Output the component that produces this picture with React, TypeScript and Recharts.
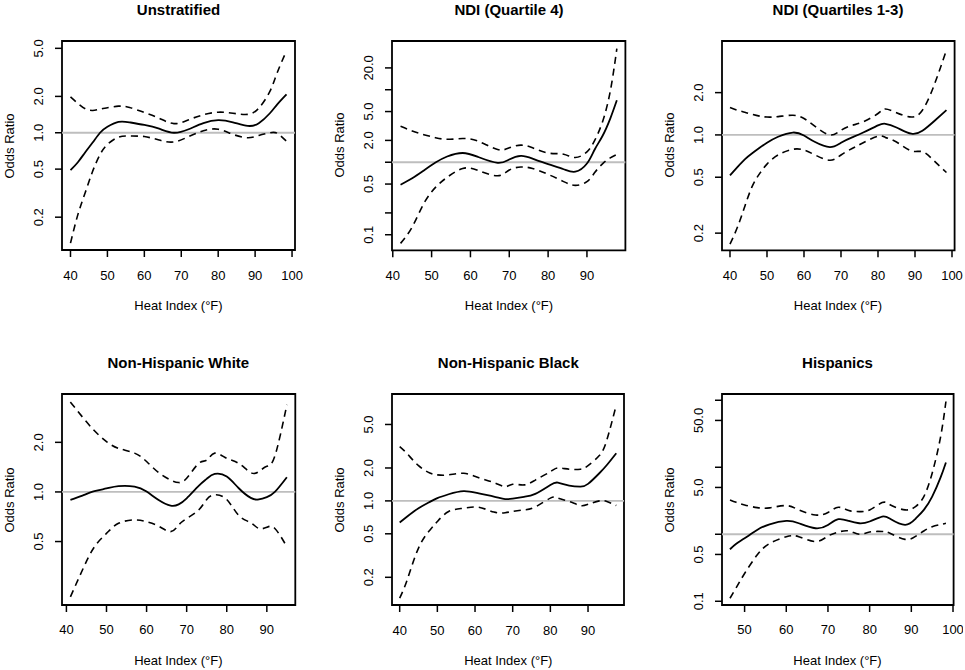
import { LineChart, Line, XAxis, YAxis, ReferenceLine, ReferenceArea } from 'recharts';

const FONT = '"Liberation Sans", Arial, Helvetica, sans-serif';

// Unstratified
const unstratX = [40, 42, 44, 46, 48, 50, 53, 56, 60, 64, 68, 72, 76, 80, 84, 88, 91, 94, 96, 98.5];
const unstratOR = [0.49, 0.57, 0.69, 0.83, 1.0, 1.12, 1.23, 1.22, 1.16, 1.08, 1.0, 1.07, 1.2, 1.27, 1.22, 1.14, 1.2, 1.45, 1.72, 2.08];
const unstratLo = [0.122, 0.21, 0.32, 0.48, 0.66, 0.8, 0.92, 0.94, 0.93, 0.87, 0.84, 0.93, 1.04, 1.07, 0.97, 0.91, 0.95, 1.0, 0.99, 0.85];
const unstratHi = [1.98, 1.75, 1.58, 1.53, 1.57, 1.61, 1.66, 1.62, 1.47, 1.32, 1.19, 1.28, 1.41, 1.48, 1.45, 1.42, 1.6, 2.2, 3.15, 4.77];

// NDI quartile 4
const ndi4X = [42, 45, 48, 51, 54, 58, 62, 67, 70, 73, 76, 80, 84, 87, 90, 92, 94, 96, 97.7];
const ndi4OR = [0.49, 0.6, 0.77, 0.99, 1.2, 1.34, 1.18, 0.98, 1.09, 1.22, 1.12, 0.94, 0.8, 0.74, 0.96, 1.5, 2.3, 4.0, 7.15];
const ndi4Lo = [0.076, 0.128, 0.27, 0.45, 0.62, 0.82, 0.77, 0.65, 0.78, 0.86, 0.82, 0.68, 0.54, 0.48, 0.54, 0.72, 0.95, 1.15, 1.28];
const ndi4Hi = [3.13, 2.7, 2.4, 2.18, 2.07, 2.12, 1.95, 1.5, 1.58, 1.72, 1.58, 1.34, 1.29, 1.16, 1.39, 2.0, 3.6, 9.5, 36.8];

// NDI quartiles 1-3
const ndi13X = [40, 42, 44, 46, 48, 50, 53, 57, 60, 63, 67, 70, 73, 76, 80, 82, 85, 89, 92, 95, 98.5];
const ndi13OR = [0.515, 0.59, 0.67, 0.74, 0.81, 0.88, 0.97, 1.04, 0.99, 0.89, 0.82, 0.88, 0.96, 1.04, 1.17, 1.2, 1.13, 1.02, 1.07, 1.24, 1.5];
const ndi13Lo = [0.167, 0.22, 0.31, 0.43, 0.53, 0.62, 0.72, 0.79, 0.78, 0.72, 0.66, 0.72, 0.8, 0.88, 0.98, 0.96, 0.89, 0.77, 0.76, 0.66, 0.54];
const ndi13Hi = [1.57, 1.5, 1.45, 1.4, 1.36, 1.34, 1.35, 1.38, 1.31, 1.15, 1.0, 1.08, 1.17, 1.24, 1.42, 1.53, 1.44, 1.34, 1.5, 2.2, 4.02];

// Non-Hispanic White
const whiteX = [41, 44, 47, 50, 53, 57, 60, 63, 66, 68, 70, 73, 75, 77, 80, 83, 86, 88, 90, 92, 95];
const whiteOR = [0.894, 0.95, 1.01, 1.05, 1.085, 1.077, 1.005, 0.894, 0.826, 0.84, 0.915, 1.088, 1.2, 1.286, 1.24, 1.053, 0.92, 0.9, 0.93, 1.0, 1.228];
const whiteLo = [0.231, 0.336, 0.465, 0.56, 0.645, 0.676, 0.66, 0.62, 0.574, 0.63, 0.69, 0.777, 0.9, 0.96, 0.9, 0.72, 0.65, 0.6, 0.61, 0.6, 0.465];
const whiteHi = [3.51, 2.85, 2.35, 2.02, 1.84, 1.72, 1.53, 1.31, 1.18, 1.14, 1.21, 1.49, 1.56, 1.72, 1.6, 1.49, 1.31, 1.33, 1.43, 1.65, 3.38];

// Non-Hispanic Black
const blackX = [40, 42, 45, 48, 50, 53, 57, 61, 65, 68, 70, 73, 76, 80, 82, 85, 88, 90, 93, 95, 97.5];
const blackOR = [0.634, 0.72, 0.857, 0.98, 1.06, 1.15, 1.23, 1.17, 1.095, 1.04, 1.05, 1.09, 1.16, 1.4, 1.47, 1.38, 1.35, 1.43, 1.79, 2.13, 2.73];
const blackLo = [0.129, 0.19, 0.37, 0.54, 0.647, 0.8, 0.857, 0.875, 0.79, 0.78, 0.8, 0.827, 0.88, 1.06, 1.06, 0.986, 0.906, 0.93, 1.0, 0.986, 0.906];
const blackHi = [3.14, 2.7, 2.1, 1.8, 1.73, 1.73, 1.79, 1.63, 1.47, 1.35, 1.42, 1.4, 1.55, 1.85, 2.0, 1.95, 1.95, 2.1, 2.6, 3.61, 7.54];

// Hispanics
const hispX = [46.5, 48, 50, 53, 56, 60, 63, 67, 70, 72.5, 75, 77.5, 80, 83, 85, 88.5, 91, 93, 95, 97, 98.3];
const hispOR = [0.597, 0.72, 0.87, 1.16, 1.41, 1.58, 1.46, 1.23, 1.38, 1.68, 1.58, 1.46, 1.55, 1.84, 1.69, 1.38, 1.7, 2.31, 3.65, 7.0, 11.8];
const hispLo = [0.111, 0.16, 0.26, 0.49, 0.73, 0.92, 0.92, 0.78, 0.94, 1.08, 1.12, 1.0, 1.08, 1.1, 1.03, 0.84, 0.93, 1.12, 1.3, 1.4, 1.46];
const hispHi = [3.26, 3.0, 2.74, 2.5, 2.48, 2.68, 2.31, 1.94, 2.11, 2.53, 2.26, 2.18, 2.31, 2.97, 2.74, 2.31, 2.59, 3.65, 8.16, 28, 95.9];

const toRows = (x: number[], or: number[], lo: number[], hi: number[]) =>
  x.map((v, i) => ({ x: v, or: or[i], lo: lo[i], hi: hi[i] }));

type Box = { l: number; t: number; r: number; b: number };

interface PanelProps {
  title: string;
  rows: { x: number; or: number; lo: number; hi: number }[];
  xDomain: [number, number];
  yDomain: [number, number];
  xTicks: number[];
  yTicks: number[];
  yLabeled: number[];
  box: Box;
}

const PAD_L = 70;
const PAD_T = 30;
const PAD_R = 10;
const PAD_B = 70;

function YTick(props: any) {
  const { x, y, payload, labeled } = props;
  const v = payload.value as number;
  if (!labeled.includes(v)) return <g />;
  return (
    <text
      x={x}
      y={y}
      transform={`rotate(-90 ${x} ${y})`}
      textAnchor="middle"
      dominantBaseline="central"
      fontSize={13}
      fontFamily={FONT}
      fill="#000"
    >
      {v.toFixed(1)}
    </text>
  );
}

function XTick(props: any) {
  const { x, y, payload } = props;
  return (
    <text x={x} y={y} textAnchor="middle" dominantBaseline="central" fontSize={13} fontFamily={FONT} fill="#000">
      {payload.value}
    </text>
  );
}

function Panel({ title, rows, xDomain, yDomain, xTicks, yTicks, yLabeled, box }: PanelProps) {
  const bw = box.r - box.l;
  const bh = box.b - box.t;
  const w = bw + PAD_L + PAD_R;
  const h = bh + PAD_T + PAD_B;
  const cx = (box.l + box.r) / 2;
  const cy = (box.t + box.b) / 2;
  return (
    <>
      <div
        style={{
          position: 'absolute',
          left: cx - 150,
          top: box.t - 40,
          width: 300,
          lineHeight: '18px',
          textAlign: 'center',
          fontFamily: FONT,
          fontWeight: 'bold',
          fontSize: 15,
        }}
      >
        {title}
      </div>
      <div style={{ position: 'absolute', left: box.l - PAD_L, top: box.t - PAD_T }}>
        <LineChart width={w} height={h} data={rows} margin={{ top: PAD_T, right: PAD_R, left: 10, bottom: 10 }}>
          <XAxis
            dataKey="x"
            type="number"
            domain={xDomain}
            ticks={xTicks}
            allowDataOverflow
            interval={0}
            height={60}
            axisLine={false}
            tickLine={{ stroke: '#000', strokeWidth: 1.5 }}
            tickSize={7}
            tickMargin={18}
            tick={<XTick />}
          />
          <YAxis
            type="number"
            scale="log"
            domain={yDomain}
            ticks={yTicks}
            allowDataOverflow
            interval={0}
            width={60}
            axisLine={false}
            tickLine={{ stroke: '#000', strokeWidth: 1.5 }}
            tickSize={7}
            tickMargin={16}
            tick={<YTick labeled={yLabeled} />}
          />
          <ReferenceLine y={1} stroke="#bebebe" strokeWidth={1.8} />
          <Line dataKey="hi" type="natural" stroke="#000" strokeWidth={1.6} strokeDasharray="7 5" dot={false} isAnimationActive={false} />
          <Line dataKey="lo" type="natural" stroke="#000" strokeWidth={1.6} strokeDasharray="7 5" dot={false} isAnimationActive={false} />
          <Line dataKey="or" type="natural" stroke="#000" strokeWidth={1.8} dot={false} isAnimationActive={false} />
          <ReferenceArea
            x1={xDomain[0]}
            x2={xDomain[1]}
            y1={yDomain[0]}
            y2={yDomain[1]}
            fill="none"
            fillOpacity={0}
            stroke="#000"
            strokeWidth={1.8}
            ifOverflow="visible"
          />
        </LineChart>
      </div>
      <div
        style={{
          position: 'absolute',
          left: cx - 100,
          top: box.b + 56 - 9,
          width: 200,
          lineHeight: '18px',
          textAlign: 'center',
          fontFamily: FONT,
          fontSize: 13,
        }}
      >
        Heat Index (°F)
      </div>
      <div
        style={{
          position: 'absolute',
          left: box.l - 52 - 50,
          top: cy - 9,
          width: 100,
          lineHeight: '18px',
          textAlign: 'center',
          fontFamily: FONT,
          fontSize: 13,
          transform: 'rotate(-90deg)',
        }}
      >
        Odds Ratio
      </div>
    </>
  );
}

export default function App() {
  return (
    <div style={{ position: 'absolute', left: 0, top: 0, width: 965, height: 670, background: '#fff', overflow: 'hidden' }}>
      <Panel
        title="Unstratified"
        rows={toRows(unstratX, unstratOR, unstratLo, unstratHi)}
        xDomain={[37.7, 100.8]}
        yDomain={[0.107, 5.75]}
        xTicks={[40, 50, 60, 70, 80, 90, 100]}
        yTicks={[0.2, 0.5, 1, 2, 5]}
        yLabeled={[0.2, 0.5, 1, 2, 5]}
        box={{ l: 62, t: 41, r: 295, b: 250 }}
      />
      <Panel
        title="NDI (Quartile 4)"
        rows={toRows(ndi4X, ndi4OR, ndi4Lo, ndi4Hi)}
        xDomain={[39.8, 99.9]}
        yDomain={[0.061, 47]}
        xTicks={[40, 50, 60, 70, 80, 90]}
        yTicks={[0.1, 0.2, 0.5, 1, 2, 5, 10, 20]}
        yLabeled={[0.1, 0.5, 2, 5, 20]}
        box={{ l: 392.3, t: 40.7, r: 625.7, b: 250 }}
      />
      <Panel
        title="NDI (Quartiles 1-3)"
        rows={toRows(ndi13X, ndi13OR, ndi13Lo, ndi13Hi)}
        xDomain={[37.84, 100.7]}
        yDomain={[0.151, 4.66]}
        xTicks={[40, 50, 60, 70, 80, 90, 100]}
        yTicks={[0.2, 0.5, 1, 2]}
        yLabeled={[0.2, 0.5, 1, 2]}
        box={{ l: 721.7, t: 40.7, r: 954.3, b: 250 }}
      />
      <Panel
        title="Non-Hispanic White"
        rows={toRows(whiteX, whiteOR, whiteLo, whiteHi)}
        xDomain={[38.9, 97.1]}
        yDomain={[0.206, 3.93]}
        xTicks={[40, 50, 60, 70, 80, 90]}
        yTicks={[0.5, 1, 2]}
        yLabeled={[0.5, 1, 2]}
        box={{ l: 61.7, t: 394, r: 295, b: 605 }}
      />
      <Panel
        title="Non-Hispanic Black"
        rows={toRows(blackX, blackOR, blackLo, blackHi)}
        xDomain={[37.96, 99.55]}
        yDomain={[0.1116, 9.5]}
        xTicks={[40, 50, 60, 70, 80, 90]}
        yTicks={[0.2, 0.5, 1, 2, 5]}
        yLabeled={[0.2, 0.5, 1, 2, 5]}
        box={{ l: 392.3, t: 394, r: 624.3, b: 605 }}
      />
      <Panel
        title="Hispanics"
        rows={toRows(hispX, hispOR, hispLo, hispHi)}
        xDomain={[44.58, 100.14]}
        yDomain={[0.088, 124]}
        xTicks={[50, 60, 70, 80, 90, 100]}
        yTicks={[0.1, 0.5, 1, 5, 10, 50, 100]}
        yLabeled={[0.1, 0.5, 5, 50]}
        box={{ l: 721.7, t: 394, r: 953.3, b: 605 }}
      />
    </div>
  );
}
